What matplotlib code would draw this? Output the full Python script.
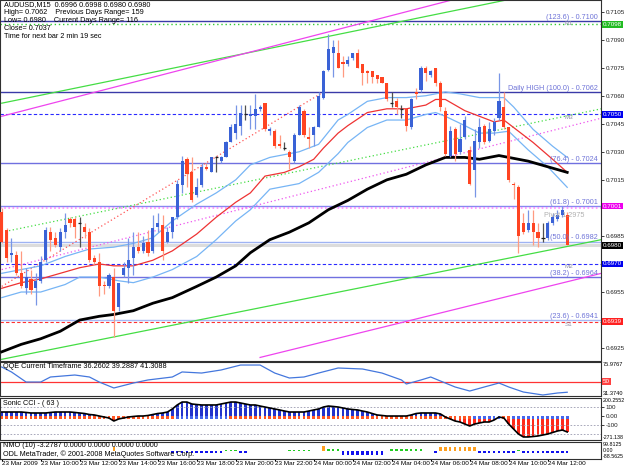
import matplotlib
matplotlib.use("Agg")
import matplotlib.pyplot as plt

plt.rcParams['font.family'] = ['Liberation Sans', 'DejaVu Sans']

# ---------------- data ----------------
opens = [0.6998,0.6988,0.6975,0.6975,0.6965,0.6957,0.6962,0.6957,0.6961,0.6972,
         0.6987,0.6984,0.6979,0.6987,0.6994,0.6994,0.6992,0.6990,0.6987,0.6973,
         0.6971,0.6959,0.6958,0.6963,0.6947,0.6964,0.6968,0.6973,0.6979,0.6977,
         0.6982,0.6977,0.6990,0.6991,0.6982,0.6987,0.6995,0.7012,0.7026,0.7019,
         0.7007,0.7012,0.7022,0.7019,0.7027,0.7025,0.7027,0.7035,0.7040,0.7044,
         0.7050,0.7049,0.7049,0.7053,0.7056,0.7041,0.7041,0.7034,0.7032,0.7030,
         0.7025,0.7039,0.7052,0.7038,0.7039,0.7043,0.7059,0.7074,0.7083,0.7083,
         0.7078,0.7077,0.7080,0.7083,0.7077,0.7073,0.7073,0.7071,0.7070,0.7067,
         0.7056,0.7057,0.7053,0.7053,0.7043,0.7062,0.7063,0.7075,0.7071,0.7075,
         0.7067,0.7052,0.7028,0.7042,0.7030,0.7038,0.7031,0.7020,0.7035,0.7044,
         0.7036,0.7041,0.7048,0.7054,0.7043,0.7013,0.7011,0.6992,0.6988,0.6992,
         0.6987,0.6984,0.6984,0.6992,0.6994,0.6996,0.6996]
highs = [0.7000,0.6989,0.6984,0.6977,0.6977,0.6968,0.6967,0.6965,0.6974,0.6990,
         0.6990,0.6987,0.6989,0.6997,0.6995,0.6995,0.6995,0.6992,0.6989,0.6975,
         0.6976,0.6961,0.6965,0.6968,0.6960,0.6971,0.6984,0.6987,0.6987,0.6985,
         0.6988,0.6996,0.6997,0.6996,0.6990,0.6995,0.7015,0.7028,0.7027,0.7027,
         0.7016,0.7024,0.7024,0.7027,0.7028,0.7028,0.7036,0.7045,0.7055,0.7055,
         0.7055,0.7055,0.7061,0.7055,0.7056,0.7043,0.7042,0.7039,0.7035,0.7031,
         0.7040,0.7055,0.7053,0.7043,0.7044,0.7062,0.7074,0.7093,0.7090,0.7090,
         0.7081,0.7081,0.7083,0.7085,0.7077,0.7074,0.7073,0.7071,0.7070,0.7067,
         0.7062,0.7059,0.7055,0.7053,0.7059,0.7064,0.7076,0.7076,0.7074,0.7075,
         0.7068,0.7054,0.7044,0.7043,0.7045,0.7049,0.7033,0.7042,0.7048,0.7045,
         0.7046,0.7048,0.7072,0.7062,0.7043,0.7014,0.7012,0.6997,0.6999,0.6999,
         0.6992,0.6992,0.6993,0.6997,0.6999,0.7001,0.6998]
lows = [0.6981,0.6971,0.6971,0.6964,0.6957,0.6954,0.6954,0.6948,0.6960,0.6971,
        0.6977,0.6979,0.6977,0.6984,0.6990,0.6984,0.6979,0.6984,0.6971,0.6970,
        0.6953,0.6954,0.6957,0.6931,0.6945,0.6963,0.6960,0.6964,0.6976,0.6976,
        0.6974,0.6976,0.6987,0.6972,0.6981,0.6984,0.6994,0.7008,0.7011,0.7003,
        0.7006,0.7011,0.7020,0.7019,0.7019,0.7024,0.7027,0.7035,0.7037,0.7039,
        0.7047,0.7042,0.7042,0.7052,0.7041,0.7039,0.7032,0.7032,0.7031,0.7021,
        0.7024,0.7039,0.7038,0.7032,0.7033,0.7043,0.7058,0.7073,0.7070,0.7075,
        0.7070,0.7076,0.7079,0.7075,0.7066,0.7067,0.7067,0.7067,0.7067,0.7057,
        0.7054,0.7050,0.7048,0.7041,0.7042,0.7058,0.7062,0.7068,0.7070,0.7065,
        0.7052,0.7028,0.7027,0.7025,0.7029,0.7037,0.7012,0.7006,0.7032,0.7034,
        0.7035,0.7039,0.7047,0.7042,0.7014,0.7005,0.6976,0.6986,0.6987,0.6980,
        0.6979,0.6982,0.6983,0.6991,0.6993,0.6995,0.6980]
closes = [0.6982,0.6973,0.6976,0.6965,0.6958,0.6963,0.6956,0.6961,0.6971,0.6988,
          0.6983,0.6980,0.6987,0.6991,0.6992,0.6990,0.6992,0.6987,0.6972,0.6971,
          0.6958,0.6958,0.6964,0.6945,0.6960,0.6968,0.6972,0.6979,0.6977,0.6981,
          0.6976,0.6989,0.6992,0.6977,0.6987,0.6995,0.7013,0.7025,0.7018,0.7004,
          0.7011,0.7022,0.7021,0.7027,0.7027,0.7027,0.7035,0.7043,0.7045,0.7051,
          0.7050,0.7050,0.7053,0.7054,0.7042,0.7042,0.7033,0.7033,0.7032,0.7027,
          0.7039,0.7054,0.7039,0.7037,0.7043,0.7060,0.7073,0.7085,0.7086,0.7075,
          0.7077,0.7079,0.7083,0.7075,0.7072,0.7072,0.7070,0.7069,0.7067,0.7058,
          0.7056,0.7054,0.7053,0.7044,0.7058,0.7061,0.7075,0.7072,0.7073,0.7067,
          0.7054,0.7029,0.7041,0.7029,0.7037,0.7047,0.7013,0.7036,0.7043,0.7035,
          0.7042,0.7046,0.7057,0.7043,0.7015,0.7012,0.6985,0.6987,0.6992,0.6987,
          0.6984,0.6984,0.6992,0.6995,0.6996,0.6999,0.6980]

time_labels = ["23 Mar 2009", "23 Mar 10:00", "23 Mar 12:00", "23 Mar 14:00", "23 Mar 16:00",
               "23 Mar 18:00", "23 Mar 20:00", "23 Mar 22:00", "24 Mar 00:00", "24 Mar 02:00",
               "24 Mar 04:00", "24 Mar 06:00", "24 Mar 08:00", "24 Mar 10:00", "24 Mar 12:00"]
time_bars = [0, 8, 16, 24, 32, 40, 48, 56, 64, 72, 80, 88, 96, 104, 112]

ma_bars = [0, 4, 8, 12, 16, 20, 23, 27, 31, 35, 40, 44, 48, 51, 55, 59, 63, 67, 71, 75,
           79, 83, 87, 91, 95, 98, 102, 104, 108, 112, 116]
ma_black = [0.6923, 0.6927, 0.6930, 0.6934, 0.6940, 0.6942, 0.6943, 0.6945, 0.6949, 0.6952,
            0.6958, 0.6963, 0.6969, 0.6976, 0.6983, 0.6987, 0.6992, 0.6999, 0.7004, 0.7010,
            0.7015, 0.7018, 0.7023, 0.7027, 0.7027, 0.7026, 0.7028, 0.7027, 0.7025, 0.7022, 0.7019]
red_bars = [0, 4, 8, 12, 16, 20, 23, 27, 31, 35, 40, 44, 48, 51, 54, 58, 61, 64, 66, 69,
            71, 75, 79, 83, 87, 89, 91, 95, 98, 101, 103, 105, 109, 113, 116]
ma_red = [0.6957, 0.6960, 0.6962, 0.6965, 0.6968, 0.6970, 0.6969, 0.6969, 0.6972, 0.6977,
          0.6986, 0.6995, 0.7003, 0.7008, 0.7017, 0.7019, 0.7022, 0.7026, 0.7032, 0.7040,
          0.7044, 0.7051, 0.7053, 0.7053, 0.7055, 0.7058, 0.7058, 0.7052, 0.7049, 0.7046,
          0.7047, 0.7043, 0.7035, 0.7026, 0.7019]
band_bars = [0, 8, 13, 18, 23, 27, 31, 35, 40, 44, 48, 51, 55, 61, 65, 69, 71, 75, 79, 83,
             87, 91, 94, 98, 103, 105, 109, 113, 116]
band_up = [0.6965, 0.6969, 0.6974, 0.6978, 0.6979, 0.6981, 0.6984, 0.6993, 0.7002, 0.7008,
           0.7015, 0.7023, 0.7027, 0.7030, 0.7034, 0.7047, 0.7050, 0.7057, 0.7059, 0.7059,
           0.7060, 0.7062, 0.7061, 0.7059, 0.7059, 0.7054, 0.7042, 0.7033, 0.7027]
band_dn_bars = [0, 4, 8, 13, 16, 20, 24, 27, 31, 35, 40, 44, 48, 51, 55, 61, 65, 69, 71, 75,
                79, 83, 87, 89, 91, 95, 98, 101, 104, 108, 112, 116]
band_dn = [0.6952, 0.6955, 0.6955, 0.6959, 0.6963, 0.6963, 0.6961, 0.6960, 0.6963, 0.6967,
           0.6974, 0.6983, 0.6993, 0.6999, 0.7010, 0.7013, 0.7019, 0.7029, 0.7035, 0.7043,
           0.7047, 0.7047, 0.7050, 0.7051, 0.7049, 0.7044, 0.7040, 0.7040, 0.7041, 0.7031,
           0.7022, 0.7011]

green_up = [(0, 0.7056), (105, 0.7112)]
magenta_up = [(0, 0.7049), (95, 0.7113)]
green_dn = [(0, 0.6919), (123, 0.6983)]
magenta_dn = [(53, 0.6920), (123, 0.6965)]
green_mid = [(0, 0.6987), (123, 0.7053)]
magenta_mid = [(0, 0.6967), (123, 0.7048)]
red_trend = [(0, 0.6958), (66, 0.7062)]

qqe_bars = [0, 2, 5, 8, 10, 15, 18, 20, 23, 27, 30, 35, 37, 41, 45, 49, 53, 56, 59, 62,
            65, 69, 74, 78, 82, 83, 86, 88, 91, 93, 96, 99, 102, 104, 107, 111, 114, 116]
qqe = [69.4, 62.9, 49.7, 49.7, 56.3, 58.9, 56.3, 49.7, 41.9, 48.4, 52.4, 56.3, 62.9, 61.5,
       65.5, 72.0, 72.0, 61.5, 55.0, 56.3, 61.5, 68.1, 66.8, 61.5, 52.4, 47.1, 52.4, 56.3,
       48.4, 43.2, 37.9, 43.2, 48.4, 43.2, 36.6, 32.7, 35.3, 36.3]

cci = [43, 43, 43, 43, 43, 38, 32, 32, 32, 32, 38, 43, 43, 43, 43, 38, 32, 26, 15, 10,
       -2, -13, -24, -58, -35, -24, -13, -7, -2, -2, 4, 15, 26, 32, 43, 77, 122, 155, 155, 133,
       127, 122, 122, 122, 122, 133, 144, 155, 155, 144, 133, 122, 122, 110, 99, 88, 77, 66, 54, 43,
       43, 43, 43, 54, 66, 77, 99, 110, 105, 99, 88, 77, 71, 66, 54, 43, 26, 10, 4, -2,
       -2, -2, -2, -2, 10, 26, 32, 32, 32, 32, 21, -13, -35, -58, -69, -92, -114, -92, -80, -69,
       -69, -47, -13, -24, -92, -148, -204, -237, -237, -232, -226, -215, -204, -187, -170, -159, -181]
cci_trend = ("rrrrrrrrrrrrrrrrrrrrrrrrrrrrrrrrrrrr"
             "bbbbbbbbbbb"
             "rrrrrrrrrrrrrrrrrrrrrrrrrrrrrrrrrrrrrrrrrrrrrrrrrr"
             "bbbbbb" "rr" "bbbbbbbbbbbb")

nmo = [0]*23 + [45] + [0]*11 + [-25]*4 + [-20]*7 + [15]*3 + [-20]*2 + [0]*8 + [15]*5 + [0]*2 \
      + [50] + [25]*3 + [-40]*9 + [0] + [20]*7 + [0]*2 + [-20] + [40]*8 + [-20]*8 + [15] + [-20]*10

# ---------------- figure ----------------
W, H = 625, 469
fig = plt.figure(figsize=(W / 100, H / 100), dpi=100)
fig.patch.set_facecolor("white")
FS = 5.2      # chart texts
AFS = 4.5     # right axis labels
XL = (-0.35, 122.93)


def ax_px(x0, y0, x1, y1):
    a = fig.add_axes([x0 / W, 1 - y1 / H, (x1 - x0) / W, (y1 - y0) / H])
    a.set_xlim(*XL)
    a.set_facecolor("white")
    for s in a.spines.values():
        s.set_color("#303030")
        s.set_linewidth(0.8)
    a.tick_params(axis="x", bottom=False, labelbottom=False)
    a.yaxis.tick_right()
    a.tick_params(axis="y", direction="out", length=2, width=0.6, labelsize=AFS, pad=1.2,
                  colors="#202020")
    return a


def rlabel(a, y, t, va="center", fs=AFS, **kw):
    a.text(1.003, y, t, transform=a.get_yaxis_transform(), fontsize=fs, va=va, ha="left",
           clip_on=False, zorder=10, **kw)


ax = ax_px(0, 0, 601, 361)
ax.set_ylim(0.69181, 0.71112)

hl = [
    (0.7100, "#3a3aa8", "-", 1.0),
    (0.70985, "#33cc33", (0, (1, 2)), 1.0),
    (0.7062, "#3a3aa8", "-", 1.0),
    (0.7050, "#2a2aff", (0, (3, 2)), 0.8),
    (0.7024, "#7070e0", "-", 1.0),
    (0.7001, "#8888f0", "-", 1.0),
    (0.70000, "#ff88ff", (0, (1, 1.5)), 1.2),
    (0.6980, "#dcdcdc", "-", 2.2),
    (0.6982, "#9fb3f3", "-", 1.0),
    (0.6970, "#2a2aff", (0, (3, 2)), 0.8),
    (0.6963, "#7070e0", "-", 1.0),
    (0.6940, "#a8b8f4", "-", 1.0),
    (0.6939, "#ff3030", (0, (3, 2)), 0.8),
]
for p, c, ls, lw in hl:
    ax.axhline(p, color=c, linestyle=ls, linewidth=lw, zorder=1)

for pts, c, ls in [(green_up, "#44dd44", "-"), (magenta_up, "#ee44ee", "-"),
                   (green_dn, "#44dd44", "-"), (magenta_dn, "#ee44ee", "-"),
                   (green_mid, "#44dd44", (0, (1, 2))), (magenta_mid, "#ee55ee", (0, (1, 2))),
                   (red_trend, "#ff5555", (0, (1, 2)))]:
    ax.plot([pts[0][0], pts[1][0]], [pts[0][1], pts[1][1]], color=c, ls=ls, lw=0.9, zorder=2)

ax.plot(band_bars, band_up, color="#77b5f5", lw=0.9, zorder=3)
ax.plot(band_dn_bars, band_dn, color="#77b5f5", lw=0.9, zorder=3)
ax.plot(red_bars, ma_red, color="#ee3333", lw=0.9, zorder=3)
ax.plot(ma_bars, ma_black, color="black", lw=2.0, zorder=3)

for i, (o, h, l, c) in enumerate(zip(opens, highs, lows, closes)):
    if c > o:
        bc, wc = "#3a62d6", "#7896e6"
    elif c < o:
        bc, wc = "#ff4422", "#ff9a80"
    else:
        bc, wc = "#202020", "#505050"
    ax.vlines(i, l, h, color=wc, lw=0.9, zorder=4)
    if c == o:
        ax.hlines(o, i - 0.35, i + 0.35, color=bc, lw=0.9, zorder=5)
    else:
        ax.bar(i, abs(c - o), bottom=min(o, c), width=0.64, color=bc, linewidth=0, zorder=5)

price_ticks = [0.7105, 0.7090, 0.7075, 0.7060, 0.7045, 0.7030, 0.7015, 0.7000, 0.6985,
               0.6970, 0.6955, 0.6940, 0.6925]
ax.set_yticks(price_ticks)
ax.set_yticklabels([f"{p:.4f}" if p not in (0.7000, 0.6970, 0.6940) else "" for p in price_ticks])

for p, bg in [(0.7098, "#22bb22"), (0.7050, "#0000ee"), (0.7001, "#ee00ee"),
              (0.6980, "#000000"), (0.6970, "#0000ee"), (0.6939, "#ff2020")]:
    rlabel(ax, p, f"{p:.4f}", color="white",
           bbox=dict(boxstyle="square,pad=0.15", fc=bg, ec="none"))

fibc = "#6f74d8"
lvl_txt = [(0.7100, "(123.6) - 0.7100"), (0.7062, "Daily HIGH (100.0) - 0.7062"),
           (0.7024, "(76.4) - 0.7024"), (0.7001, "(61.8) - 0.7001"),
           (0.6982, "(50.0) - 0.6982"), (0.6963, "(38.2) - 0.6964"), (0.6940, "(23.6) - 0.6941")]
for p, t in lvl_txt:
    ax.text(0.995, p + 0.00002, t, transform=ax.get_yaxis_transform(), fontsize=FS,
            color=fibc, ha="right", va="bottom", zorder=8)
for p, t in [(0.7100, "R1"), (0.7050, "M3"), (0.6970, "M2"), (0.6939, "S1")]:
    ax.text(0.94, p - 0.00002, t, transform=ax.get_yaxis_transform(), fontsize=4.5,
            color="#9090a8", ha="left", va="top", zorder=8)
ax.text(0.905, 0.6996, "Pivot 1.2975", transform=ax.get_yaxis_transform(), fontsize=FS,
        color="#b0b0b0", ha="left", va="center", zorder=8)

hdr = ["AUDUSD,M15  0.6996 0.6998 0.6980 0.6980",
       "High= 0.7062    Previous Days Range= 159",
       "Low= 0.6980    Current Days Range= 116",
       "Close= 0.7037",
       "Time for next bar 2 min 19 sec"]
for k, t in enumerate(hdr):
    fig.text(4 / W, 1 - (5 + 8 * k) / H, t, fontsize=FS, color="black", va="center", ha="left")

# ---------------- QQE ----------------
aq = ax_px(0, 362, 601, 396)
aq.set_ylim(31.374, 75.9767)
aq.axhline(50, color="#ff3333", lw=0.9)
aq.plot(qqe_bars, qqe, color="#4477dd", lw=0.9)
aq.set_yticks([])
aq.text(0.005, 0.86, "QQE Current Timeframe 36.2602 39.2887 41.3088", transform=aq.transAxes,
        fontsize=FS, va="center", ha="left")
rlabel(aq, 75.9767, "75.9767", va="top", fs=4.1)
rlabel(aq, 31.374, "31.3740", va="bottom", fs=4.1)
rlabel(aq, 50, "50", color="white", bbox=dict(boxstyle="square,pad=0.15", fc="#ff4040", ec="none"))

# ---------------- Sonic CCI ----------------
ac = ax_px(0, 398, 601, 440)
ac.set_ylim(-271.138, 200.2552)
for lv in (200, 100, -100, -200):
    ac.axhline(lv, color="#9a9ab0", lw=0.6, ls=(0, (2, 2)))
xs = list(range(len(cci)))
ac.bar(xs, cci, width=0.55, color=["#2233cc" if v >= 0 else "#ff2a1a" for v in cci], linewidth=0)
ac.bar(xs, [-30] * len(cci), width=0.55,
       color=["#ff5522" if t == "r" else "#4466ee" for t in cci_trend], linewidth=0)
ac.plot(xs, cci, color="black", lw=1.2)
ac.set_yticks([100, 0, -100])
ac.set_yticklabels(["100", "0.00", "-100"])
ac.text(0.005, 0.88, "Sonic CCI - ( 63 )", transform=ac.transAxes, fontsize=FS, va="center")
rlabel(ac, 200.2552, "200.2552", va="top", fs=3.8)
rlabel(ac, -271.138, "-271.138", va="bottom", fs=3.8)

# ---------------- NMO ----------------
an = ax_px(0, 442, 601, 459)
an.set_ylim(-88.5625, 99.8125)
ncol = []
for v in nmo:
    if v >= 40:
        ncol.append("#ffa020")
    elif v > 0:
        ncol.append("#22cc22")
    else:
        ncol.append("#1111ee")
an.bar(range(len(nmo)), nmo, width=0.5, color=ncol, linewidth=0)
an.set_yticks([])
an.text(0.005, 0.78, "NMO (10) -3.2787 0.0000 0.0000 0.0000 0.0000", transform=an.transAxes,
        fontsize=FS, va="center")
an.text(0.005, 0.28, "ODL MetaTrader, \u00a9 2001-2008 MetaQuotes Software Corp.",
        transform=an.transAxes, fontsize=FS, va="center")
rlabel(an, 99.8125, "99.8125", va="top", fs=3.8)
rlabel(an, 5, "0.00", va="center", fs=3.8)
rlabel(an, -88.5625, "-88.5625", va="bottom", fs=3.8)
an.set_xticks(time_bars)
an.set_xticklabels(time_labels, ha="left", fontsize=4.6)
an.tick_params(axis="x", bottom=True, labelbottom=True, length=1.5, pad=0.2)

fig.savefig("out.png", dpi=100, facecolor="white")
